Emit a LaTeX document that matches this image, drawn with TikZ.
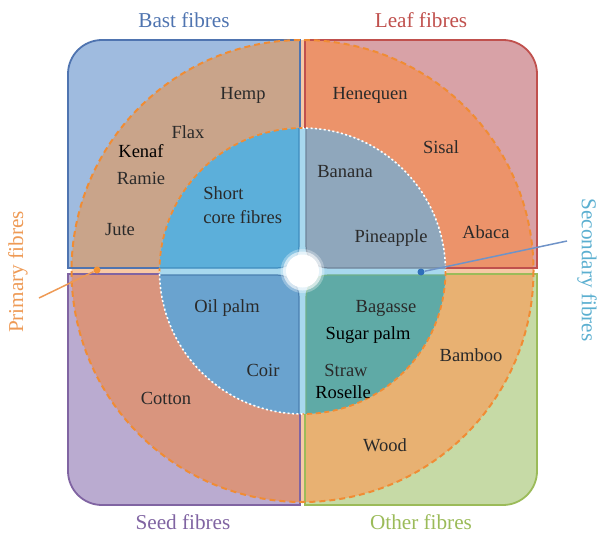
\documentclass[tikz,border=0pt]{standalone}
\usepackage{fontspec}
\setmainfont{Liberation Serif}
\definecolor{tlbox}{HTML}{9FBBDF}
\definecolor{tlline}{HTML}{4F74B0}
\definecolor{tlring}{HTML}{C9A48A}
\definecolor{tlin}{HTML}{5CAFDA}
\definecolor{tlinl}{HTML}{3F8CBE}
\definecolor{trbox}{HTML}{D8A2A7}
\definecolor{trline}{HTML}{C0504D}
\definecolor{trring}{HTML}{EC936A}
\definecolor{trin}{HTML}{8FA7BC}
\definecolor{trinl}{HTML}{6F8499}
\definecolor{blbox}{HTML}{BAABD0}
\definecolor{blline}{HTML}{8064A2}
\definecolor{blring}{HTML}{D9957E}
\definecolor{blin}{HTML}{6AA3CF}
\definecolor{blinl}{HTML}{4A7FB0}
\definecolor{brbox}{HTML}{C6DAA6}
\definecolor{brline}{HTML}{9BBB59}
\definecolor{brring}{HTML}{E8B172}
\definecolor{brin}{HTML}{5FAAA6}
\definecolor{brinl}{HTML}{6FB08A}
\definecolor{gapblue}{HTML}{A8D8EE}
\definecolor{gaporange}{HTML}{F7C9A5}
\definecolor{dashor}{HTML}{F08C34}
\definecolor{primcol}{HTML}{EE9A55}
\definecolor{primdot}{HTML}{F39233}
\definecolor{seccol}{HTML}{5BAFD0}
\definecolor{secline}{HTML}{6F93C8}
\definecolor{secdot}{HTML}{2F6FBA}
\definecolor{txt}{HTML}{2A2A2A}
\begin{document}
\begin{tikzpicture}[x=0.5pt,y=-0.5pt,
  lbl/.style={text=txt,font=\fontsize{9.25}{12}\selectfont,inner sep=1pt},
  lblk/.style={lbl,text=black},
  ttl/.style={font=\fontsize{10.6}{13}\selectfont,inner sep=1pt},
  boxline/.style={line width=0.9pt},
  inline/.style={line width=0.6pt,rounded corners=11pt},
  outdash/.style={dashor,line width=1pt,dash pattern=on 3pt off 2pt},
  indashor/.style={dashor,line width=0.9pt,dash pattern=on 2.5pt off 1.8pt},
  indashwh/.style={white,line width=0.8pt,dash pattern=on 1pt off 1.2pt},
  dotnode/.style={circle,inner sep=0pt,minimum size=3.5pt}]
\useasboundingbox (0,0) rectangle (598,534);
\coordinate (C) at (302.5,271);
% gap backgrounds
\fill[gaporange] (C) circle (231);
\fill[gapblue] (C) circle (143);
% top-left box (bast)
\fill[tlbox] (300,268) -- (68,268) -- (68,74) .. controls (68,55.2) and (83.2,40) .. (102,40) -- (300,40) -- cycle;
\begin{scope}
\clip (300,268) -- (68,268) -- (68,74) .. controls (68,55.2) and (83.2,40) .. (102,40) -- (300,40) -- cycle;
\fill[tlring] (C) circle (231);
\end{scope}
\draw[tlline,boxline] (300,268) -- (68,268) -- (68,74) .. controls (68,55.2) and (83.2,40) .. (102,40) -- (300,40) -- cycle;
% top-right box (leaf)
\fill[trbox] (305,268) -- (305,40) -- (503,40) .. controls (521.8,40) and (537,55.2) .. (537,74) -- (537,268) -- cycle;
\begin{scope}
\clip (305,268) -- (305,40) -- (503,40) .. controls (521.8,40) and (537,55.2) .. (537,74) -- (537,268) -- cycle;
\fill[trring] (C) circle (231);
\end{scope}
\draw[trline,boxline] (305,268) -- (305,40) -- (503,40) .. controls (521.8,40) and (537,55.2) .. (537,74) -- (537,268) -- cycle;
% bottom-left box (seed)
\fill[blbox] (300,274) -- (68,274) -- (68,471) .. controls (68,489.8) and (83.2,505) .. (102,505) -- (300,505) -- cycle;
\begin{scope}
\clip (300,274) -- (68,274) -- (68,471) .. controls (68,489.8) and (83.2,505) .. (102,505) -- (300,505) -- cycle;
\fill[blring] (C) circle (231);
\end{scope}
\draw[blline,boxline] (300,274) -- (68,274) -- (68,471) .. controls (68,489.8) and (83.2,505) .. (102,505) -- (300,505) -- cycle;
% bottom-right box (other)
\fill[brbox] (305,274) -- (537,274) -- (537,471) .. controls (537,489.8) and (521.8,505) .. (503,505) -- (305,505) -- cycle;
\begin{scope}
\clip (305,274) -- (537,274) -- (537,471) .. controls (537,489.8) and (521.8,505) .. (503,505) -- (305,505) -- cycle;
\fill[brring] (C) circle (231);
\end{scope}
\draw[brline,boxline] (305,274) -- (537,274) -- (537,471) .. controls (537,489.8) and (521.8,505) .. (503,505) -- (305,505) -- cycle;
% inner core
\fill[gapblue] (C) circle (143);
\begin{scope}
\clip (C) circle (143);
\filldraw[fill=tlin,draw=tlinl,inline] (299,268) rectangle (80,50);
\filldraw[fill=trin,draw=trinl,inline] (306,268) rectangle (525,50);
\filldraw[fill=blin,draw=blinl,inline] (299,275) rectangle (80,492);
\filldraw[fill=brin,draw=brinl,inline] (306,275) rectangle (525,492);
\end{scope}
% inner dashed boundaries
\begin{scope}\clip (C) rectangle (0,0); \draw[indashor] (C) circle (143); \end{scope}
\begin{scope}\clip (C) rectangle (598,0); \draw[indashwh] (C) circle (143); \end{scope}
\begin{scope}\clip (C) rectangle (0,534); \draw[indashwh] (C) circle (143); \end{scope}
\begin{scope}\clip (C) rectangle (598,534); \draw[indashor] (C) circle (143); \end{scope}
% outer dashed boundary
\draw[outdash] (C) circle (231);
% centre glow
\fill[white,opacity=0.3] (C) circle (22);
\fill[white,opacity=0.6] (C) circle (19.5);
\fill[white] (C) circle (16.5);
% titles
\node[ttl,text=tlline] (bast) at (184,20) {Bast fibres};
\node[ttl,text=trline] (leaf) at (421,20) {Leaf fibres};
\node[ttl,text=blline] (seed) at (183,522) {Seed fibres};
\node[ttl,text=brline] (other) at (421,522) {Other fibres};
\node[ttl,text=primcol,rotate=90] (prim) at (18,272) {Primary fibres};
\node[ttl,text=seccol,rotate=-90] (sec) at (587,270) {Secondary fibres};
% connectors
\node[dotnode,fill=primdot] (pdot) at (97,270) {};
\coordinate (pend) at (39,298);
\draw[primcol,line width=0.75pt] (pend) -- (pdot);
\node[dotnode,fill=secdot] (sdot) at (421,272) {};
\coordinate (send) at (567,241);
\draw[secline,line width=0.75pt] (sdot) -- (send);
% labels
\node[lbl] (hemp) at (243,95) {Hemp};
\node[lbl] (flax) at (188,132) {Flax};
\node[lblk] (kenaf) at (141,151) {Kenaf};
\node[lbl] (ramie) at (141,178) {Ramie};
\node[lbl] (jute) at (120,230) {Jute};
\node[lbl,anchor=west,align=left] (short) at (201,205) {Short\\core fibres};
\node[lbl] (heneq) at (370,95) {Henequen};
\node[lbl] (sisal) at (441,147) {Sisal};
\node[lbl] (banana) at (345,172) {Banana};
\node[lbl] (pine) at (391,238) {Pineapple};
\node[lbl] (abaca) at (486,232) {Abaca};
\node[lbl] (oil) at (227,308) {Oil palm};
\node[lbl] (coir) at (263,370) {Coir};
\node[lbl] (cotton) at (166,398) {Cotton};
\node[lbl] (bagasse) at (386,308) {Bagasse};
\node[lblk] (sugar) at (368,335) {Sugar palm};
\node[lbl] (straw) at (346,370) {Straw};
\node[lblk] (roselle) at (343,392) {Roselle};
\node[lbl] (bamboo) at (471,355) {Bamboo};
\node[lbl] (wood) at (385,445) {Wood};
\end{tikzpicture}
\end{document}
